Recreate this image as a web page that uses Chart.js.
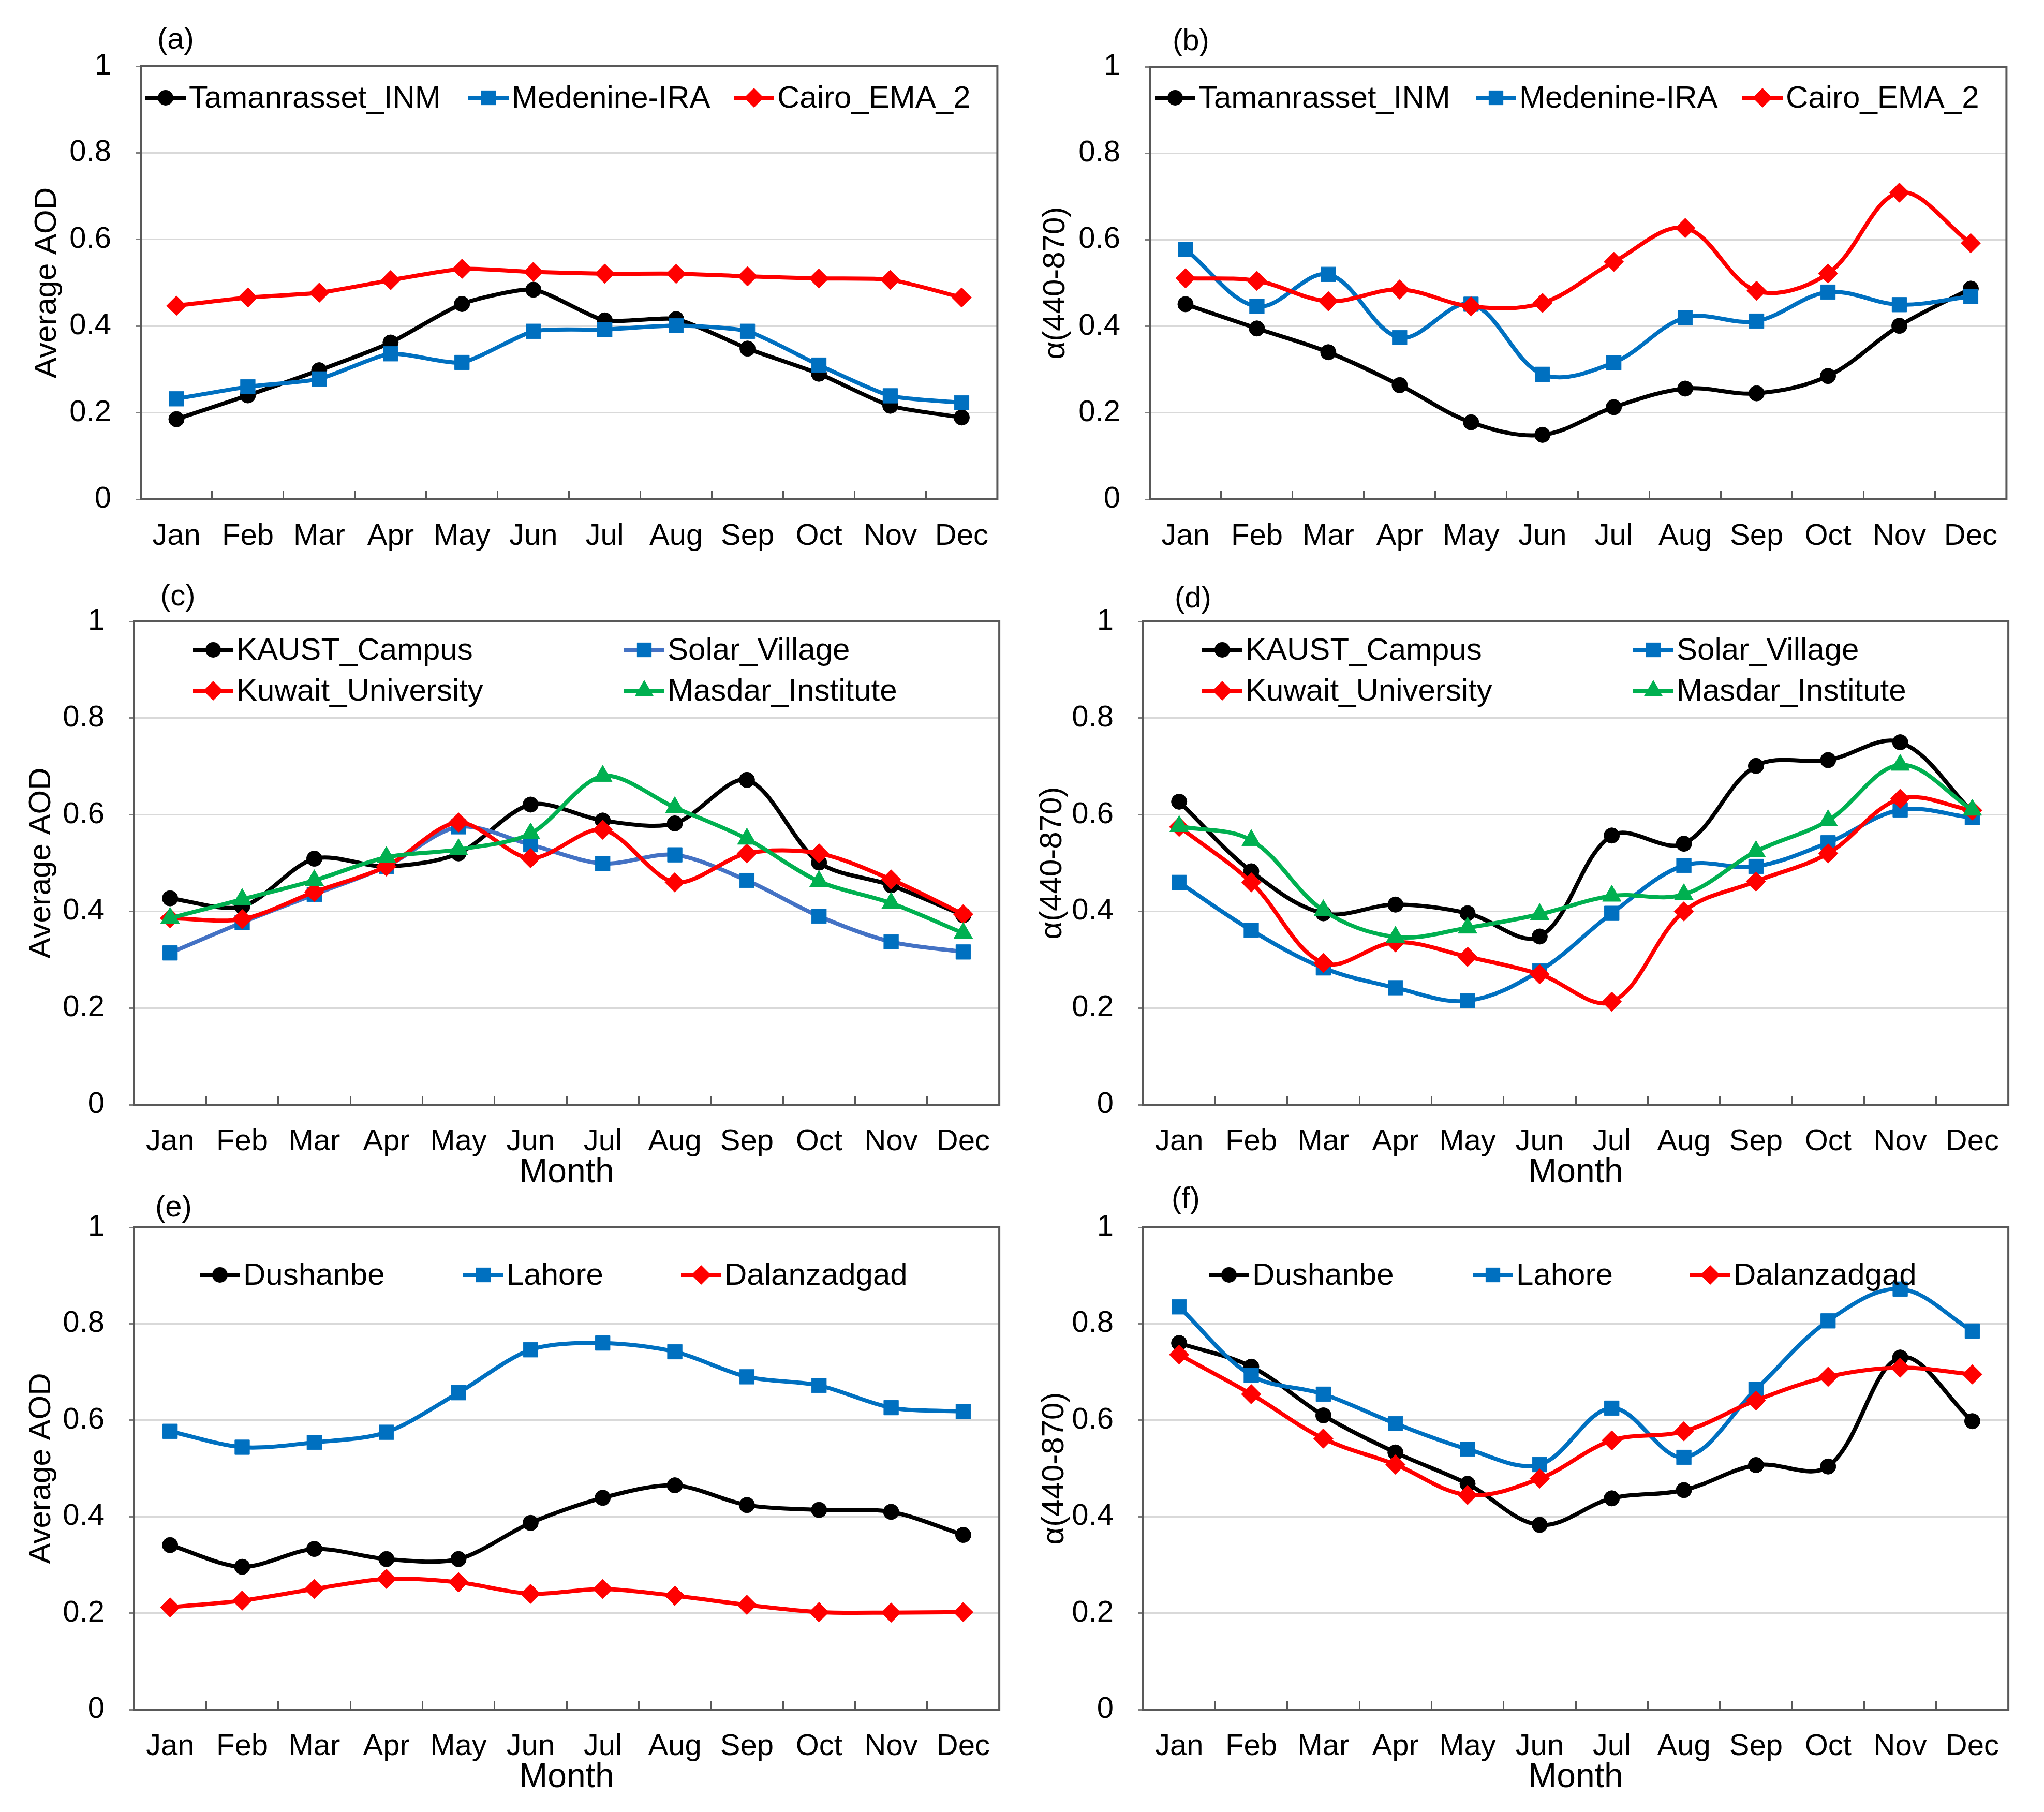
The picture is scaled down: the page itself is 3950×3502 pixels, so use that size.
<!DOCTYPE html>
<html>
<head>
<meta charset="utf-8">
<script src="https://cdn.jsdelivr.net/npm/chart.js@4.4.1/dist/chart.umd.min.js"></script>
<style>
  body { margin: 0; background: #fff; width: 3950px; height: 3502px; position: relative; overflow: hidden; }
  canvas { position: absolute; }
</style>
</head>
<body>
<script>
const months = ['Jan', 'Feb', 'Mar', 'Apr', 'May', 'Jun', 'Jul', 'Aug', 'Sep', 'Oct', 'Nov', 'Dec'];
const yTickLabels = ['0', '0.2', '0.4', '0.6', '0.8', '1'];

// (a) / (b) North Africa
const tamAOD     = [0.185, 0.24, 0.298, 0.362, 0.451, 0.484, 0.413, 0.416, 0.348, 0.29, 0.216, 0.189];
const medAOD     = [0.232, 0.26, 0.278, 0.336, 0.316, 0.388, 0.392, 0.401, 0.388, 0.31, 0.239, 0.223];
const cairoAOD   = [0.447, 0.466, 0.477, 0.506, 0.532, 0.525, 0.521, 0.521, 0.515, 0.51, 0.507, 0.466];
const tamAlpha   = [0.451, 0.395, 0.34, 0.264, 0.178, 0.149, 0.213, 0.256, 0.245, 0.285, 0.401, 0.487];
const medAlpha   = [0.578, 0.446, 0.52, 0.374, 0.451, 0.289, 0.316, 0.42, 0.412, 0.479, 0.45, 0.469];
const cairoAlpha = [0.511, 0.505, 0.458, 0.485, 0.446, 0.454, 0.549, 0.627, 0.482, 0.522, 0.709, 0.592];

// (c) / (d) Middle East
const kaustAOD    = [0.427, 0.41, 0.509, 0.493, 0.52, 0.621, 0.588, 0.582, 0.672, 0.501, 0.454, 0.392];
const solarAOD    = [0.314, 0.377, 0.435, 0.493, 0.575, 0.538, 0.499, 0.517, 0.464, 0.39, 0.337, 0.316];
const kuwaitAOD   = [0.386, 0.384, 0.44, 0.493, 0.584, 0.51, 0.569, 0.46, 0.52, 0.52, 0.466, 0.394];
const masdarAOD   = [0.386, 0.425, 0.464, 0.512, 0.528, 0.561, 0.68, 0.615, 0.55, 0.462, 0.417, 0.355];
const kaustAlpha  = [0.627, 0.483, 0.396, 0.414, 0.396, 0.348, 0.557, 0.54, 0.701, 0.713, 0.75, 0.606];
const solarAlpha  = [0.46, 0.361, 0.283, 0.242, 0.215, 0.277, 0.396, 0.495, 0.493, 0.542, 0.61, 0.594];
const kuwaitAlpha = [0.575, 0.46, 0.293, 0.336, 0.306, 0.27, 0.213, 0.4, 0.462, 0.52, 0.633, 0.609];
const masdarAlpha = [0.576, 0.547, 0.402, 0.347, 0.366, 0.394, 0.432, 0.435, 0.524, 0.588, 0.703, 0.61];

// (e) / (f) Asia
const dushAOD     = [0.341, 0.296, 0.333, 0.312, 0.312, 0.387, 0.439, 0.465, 0.424, 0.414, 0.41, 0.362];
const lahoreAOD   = [0.577, 0.544, 0.554, 0.575, 0.657, 0.746, 0.76, 0.742, 0.69, 0.672, 0.626, 0.618];
const dalanAOD    = [0.212, 0.226, 0.25, 0.271, 0.264, 0.24, 0.25, 0.236, 0.217, 0.202, 0.201, 0.202];
const dushAlpha   = [0.76, 0.711, 0.61, 0.533, 0.468, 0.383, 0.438, 0.455, 0.507, 0.504, 0.73, 0.598];
const lahoreAlpha = [0.835, 0.693, 0.654, 0.593, 0.54, 0.508, 0.625, 0.523, 0.664, 0.806, 0.872, 0.785];
const dalanAlpha  = [0.736, 0.654, 0.562, 0.508, 0.445, 0.479, 0.558, 0.577, 0.641, 0.69, 0.709, 0.695];

const FONT = "'Liberation Sans', Arial, Helvetica, sans-serif";
Chart.defaults.font.family = FONT;
Chart.defaults.color = '#000';

const styles = {
  black: { line: '#000000', fill: '#000000', shape: 'circle', r: 15 },
  blue:  { line: '#0070C0', fill: '#0070C0', shape: 'rect', r: 20 },
  blue2: { line: '#4472C4', fill: '#0070C0', shape: 'rect', r: 20 },
  red:   { line: '#FF0000', fill: '#FF0000', shape: 'rectRot', r: 19 },
  green: { line: '#00B050', fill: '#00B050', shape: 'triangle', r: 21 }
};

const aodTitle = 'Average AOD';
const alphaTitle = 'α(440-870)';

const panels = [
  { tag: '(a)', L: 272, R: 1940, T: 128, B: 965, yW: 217, xH: 120, yTitle: aodTitle, month: false, tension: 0.2,
    tagPos: [32, -50], legCols: [9, 633, 1146], legRows: [61],
    series: [['Tamanrasset_INM', tamAOD, 'black'], ['Medenine-IRA', medAOD, 'blue'], ['Cairo_EMA_2', cairoAOD, 'red']] },
  { tag: '(b)', L: 2222, R: 3890, T: 129, B: 965, yW: 218, xH: 120, yTitle: alphaTitle, month: false, tension: 0.35,
    tagPos: [44, -48], legCols: [10, 630, 1145], legRows: [60],
    series: [['Tamanrasset_INM', tamAlpha, 'black'], ['Medenine-IRA', medAlpha, 'blue'], ['Cairo_EMA_2', cairoAlpha, 'red']] },
  { tag: '(c)', L: 259, R: 1943, T: 1201, B: 2135, yW: 215, xH: 171, yTitle: aodTitle, month: true, tension: 0.3,
    tagPos: [51, -47], legCols: [114, 947], legRows: [55, 134],
    series: [['KAUST_Campus', kaustAOD, 'black'], ['Solar_Village', solarAOD, 'blue2'], ['Kuwait_University', kuwaitAOD, 'red'], ['Masdar_Institute', masdarAOD, 'green']] },
  { tag: '(d)', L: 2209, R: 3893, T: 1201, B: 2135, yW: 211, xH: 171, yTitle: alphaTitle, month: true, tension: 0.35,
    tagPos: [61, -43], legCols: [114, 947], legRows: [55, 134],
    series: [['KAUST_Campus', kaustAlpha, 'black'], ['Solar_Village', solarAlpha, 'blue'], ['Kuwait_University', kuwaitAlpha, 'red'], ['Masdar_Institute', masdarAlpha, 'green']] },
  { tag: '(e)', L: 259, R: 1943, T: 2372, B: 3304, yW: 215, xH: 171, yTitle: aodTitle, month: true, tension: 0.3,
    tagPos: [41, -37], legCols: [127, 636, 1057], legRows: [92],
    series: [['Dushanbe', dushAOD, 'black'], ['Lahore', lahoreAOD, 'blue'], ['Dalanzadgad', dalanAOD, 'red']] },
  { tag: '(f)', L: 2209, R: 3893, T: 2372, B: 3304, yW: 207, xH: 171, yTitle: alphaTitle, month: true, tension: 0.35,
    tagPos: [55, -53], legCols: [127, 637, 1057], legRows: [92],
    series: [['Dushanbe', dushAlpha, 'black'], ['Lahore', lahoreAlpha, 'blue'], ['Dalanzadgad', dalanAlpha, 'red']] }
];

function marker(ctx, shape, x, y, r, color) {
  ctx.save();
  ctx.fillStyle = color;
  ctx.beginPath();
  if (shape === 'circle') {
    ctx.arc(x, y, r, 0, Math.PI * 2);
  } else if (shape === 'rect') {
    const s = Math.SQRT1_2 * r;
    ctx.rect(x - s, y - s, 2 * s, 2 * s);
  } else if (shape === 'rectRot') {
    ctx.moveTo(x, y - r); ctx.lineTo(x + r, y); ctx.lineTo(x, y + r); ctx.lineTo(x - r, y);
    ctx.closePath();
  } else if (shape === 'triangle') {
    ctx.moveTo(x, y - r);
    ctx.lineTo(x + r * Math.sin(2 * Math.PI / 3), y - r * Math.cos(2 * Math.PI / 3));
    ctx.lineTo(x + r * Math.sin(4 * Math.PI / 3), y - r * Math.cos(4 * Math.PI / 3));
    ctx.closePath();
  }
  ctx.fill();
  ctx.restore();
}

// frame, panel tag and in-plot legend
const decor = {
  id: 'decor',
  beforeDatasetsDraw(chart) {
    const a = chart.chartArea, ctx = chart.ctx;
    ctx.save();
    ctx.strokeStyle = '#595959';
    ctx.lineWidth = 4;
    ctx.strokeRect(a.left, a.top, a.right - a.left, a.bottom - a.top);
    ctx.restore();
  },
  afterDraw(chart) {
    const p = chart.config.options.plugins.decor.panel;
    const a = chart.chartArea, ctx = chart.ctx;
    ctx.save();
    ctx.fillStyle = '#000';
    ctx.textBaseline = 'middle';
    ctx.font = '58px ' + FONT;
    ctx.fillText(p.tag, a.left + p.tagPos[0], a.top + p.tagPos[1]);
    const n = p.legCols.length;
    p.series.forEach((s, i) => {
      const st = styles[s[2]];
      const x = a.left + p.legCols[i % n];
      const y = a.top + p.legRows[Math.floor(i / n)];
      ctx.strokeStyle = st.line;
      ctx.lineWidth = 8;
      ctx.beginPath();
      ctx.moveTo(x, y); ctx.lineTo(x + 78, y);
      ctx.stroke();
      marker(ctx, st.shape, x + 39, y, st.r, st.fill);
      ctx.fillStyle = '#000';
      ctx.font = '60px ' + FONT;
      ctx.fillText(s[0], x + 84, y + 2);
    });
    ctx.restore();
  }
};

panels.forEach(p => {
  const top = 120, right = 24;
  const cl = p.L - p.yW, ct = p.T - top;
  const cw = p.R - cl + right, ch = p.B - ct + p.xH;
  const canvas = document.createElement('canvas');
  canvas.width = cw; canvas.height = ch;
  canvas.style.left = cl + 'px'; canvas.style.top = ct + 'px';
  canvas.style.width = cw + 'px'; canvas.style.height = ch + 'px';
  document.body.appendChild(canvas);

  const datasets = p.series.map((s, i) => {
    const st = styles[s[2]];
    return {
      label: s[0],
      data: s[1],
      borderColor: st.line,
      backgroundColor: st.fill,
      pointBackgroundColor: st.fill,
      pointBorderColor: st.fill,
      pointBorderWidth: 1,
      pointStyle: st.shape,
      pointRadius: st.r,
      borderWidth: 8,
      tension: p.tension,
      fill: false,
      order: -i
    };
  });

  new Chart(canvas, {
    type: 'line',
    data: { labels: months, datasets: datasets },
    options: {
      responsive: false,
      devicePixelRatio: 1,
      animation: false,
      events: [],
      layout: { padding: { left: 0, right: right, top: top, bottom: 0 } },
      plugins: { legend: { display: false }, tooltip: { enabled: false }, decor: { panel: p } },
      scales: {
        x: {
          offset: true,
          grid: { offset: true, drawOnChartArea: false, tickLength: -16, tickColor: '#595959', tickWidth: 3 },
          border: { color: '#595959', width: 4 },
          ticks: { color: '#000', font: { size: 58 }, padding: 53, autoSkip: false, maxRotation: 0 },
          title: { display: p.month, text: 'Month', color: '#000', font: { size: 66 }, padding: 0 },
          afterFit(s) { s.height = p.xH; }
        },
        y: {
          min: 0,
          max: 1,
          ticks: { stepSize: 0.2, color: '#000', font: { size: 58 }, padding: 47,
                   callback: (v, i) => yTickLabels[i] },
          grid: { color: '#d9d9d9', lineWidth: 3, tickLength: 10, tickColor: '#7f7f7f', tickWidth: 3 },
          border: { color: '#595959', width: 4 },
          title: { display: true, text: p.yTitle, color: '#000', font: { size: 60 }, padding: 0 },
          afterFit(s) { s.width = p.yW; }
        }
      }
    },
    plugins: [decor]
  });
});
</script>
</body>
</html>
